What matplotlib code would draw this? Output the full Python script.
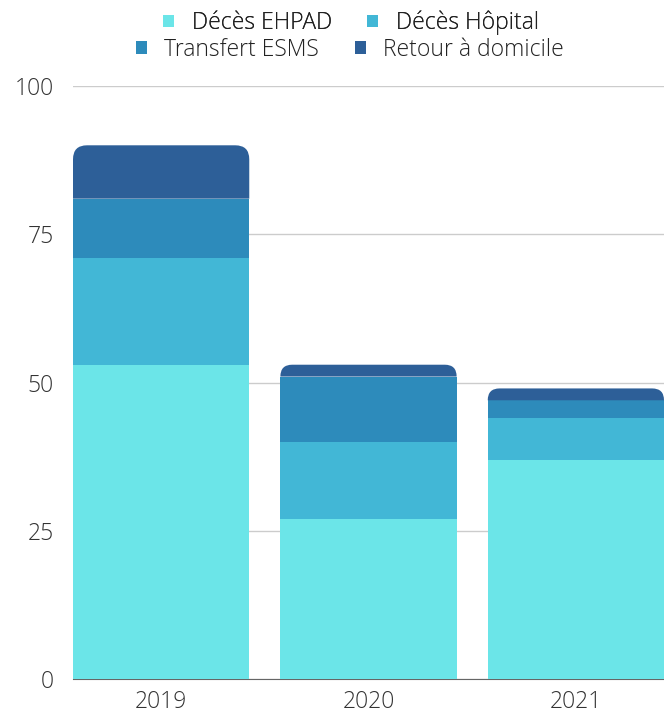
import matplotlib
matplotlib.use("Agg")
import matplotlib.pyplot as plt
from matplotlib.patches import Patch, PathPatch
from matplotlib.path import Path

# données
annees = ["2019", "2020", "2021"]
deces_ehpad = [53, 27, 37]
deces_hopital = [18, 13, 7]
transfert_esms = [10, 11, 3]
retour_domicile = [9, 2, 2]

series = [deces_ehpad, deces_hopital, transfert_esms, retour_domicile]
noms = ["Décès EHPAD", "Décès Hôpital", "Transfert ESMS", "Retour à domicile"]
couleurs = ["#6be5e8", "#42b7d6", "#2d8bbb", "#2d5f98"]

plt.rcParams["font.family"] = ["Open Sans", "DejaVu Sans"]
plt.rcParams["font.weight"] = "light"

W, H = 664, 715
fig = plt.figure(figsize=(W / 100, H / 100), dpi=100)
ax_l, ax_r, ax_t, ax_b = 73, 664, 86, 679
ax = fig.add_axes([ax_l / W, 1 - ax_b / H, (ax_r - ax_l) / W, (ax_b - ax_t) / H])

largeur = 0.85
xlim = (-0.425, 2.425)
ylim = (0, 100)
px_x = (ax_r - ax_l) / (xlim[1] - xlim[0])
px_y = (ax_b - ax_t) / (ylim[1] - ylim[0])
rayon_px = 14


def barre_arrondie(x, bas, haut, couleur):
    # rectangle avec les coins du haut arrondis
    r_px = min(rayon_px, (haut - bas) * px_y)
    rx = r_px / px_x
    ry = r_px / px_y
    g, d = x - largeur / 2, x + largeur / 2
    verts = [(g, bas), (g, haut - ry), (g, haut), (g + rx, haut),
             (d - rx, haut), (d, haut), (d, haut - ry), (d, bas), (g, bas)]
    codes = [Path.MOVETO, Path.LINETO, Path.CURVE3, Path.CURVE3,
             Path.LINETO, Path.CURVE3, Path.CURVE3, Path.LINETO, Path.CLOSEPOLY]
    ax.add_patch(PathPatch(Path(verts, codes), facecolor=couleur,
                           edgecolor="none", zorder=3))


pos = list(range(len(annees)))
cumul = [0] * len(annees)
for k, (vals, coul) in enumerate(zip(series, couleurs)):
    if k < len(series) - 1:
        ax.bar(pos, vals, largeur, bottom=cumul, color=coul, zorder=3)
    else:
        for i in pos:
            barre_arrondie(i, cumul[i], cumul[i] + vals[i], coul)
    cumul = [c + v for c, v in zip(cumul, vals)]

ax.set_xlim(*xlim)
ax.set_ylim(*ylim)
ax.set_xticks(pos)
ax.set_xticklabels(annees)
ax.set_yticks([0, 25, 50, 75, 100])
ax.tick_params(axis="both", length=0, labelsize=16.5, colors="#333333")
ax.tick_params(axis="x", pad=8)
ax.tick_params(axis="y", pad=14)
ax.grid(axis="y", color="#cccccc", linewidth=1, zorder=0)
for s in ["top", "right", "left"]:
    ax.spines[s].set_visible(False)
ax.spines["bottom"].set_color("#666666")
ax.spines["bottom"].set_zorder(2)

poignees = [Patch(facecolor=c, edgecolor="none") for c in couleurs]
opts = dict(loc="center", ncol=2, frameon=False, fontsize=16.5,
            handlelength=0.48, handleheight=0.48, handletextpad=0.75,
            columnspacing=1.55, labelcolor="#222222")
leg1 = fig.legend(poignees[:2], noms[:2], bbox_to_anchor=(351 / W, 1 - 23 / H), **opts)
fig.add_artist(leg1)
fig.legend(poignees[2:], noms[2:], bbox_to_anchor=(350 / W, 1 - 50 / H), **opts)

fig.savefig("out.png", dpi=100)
